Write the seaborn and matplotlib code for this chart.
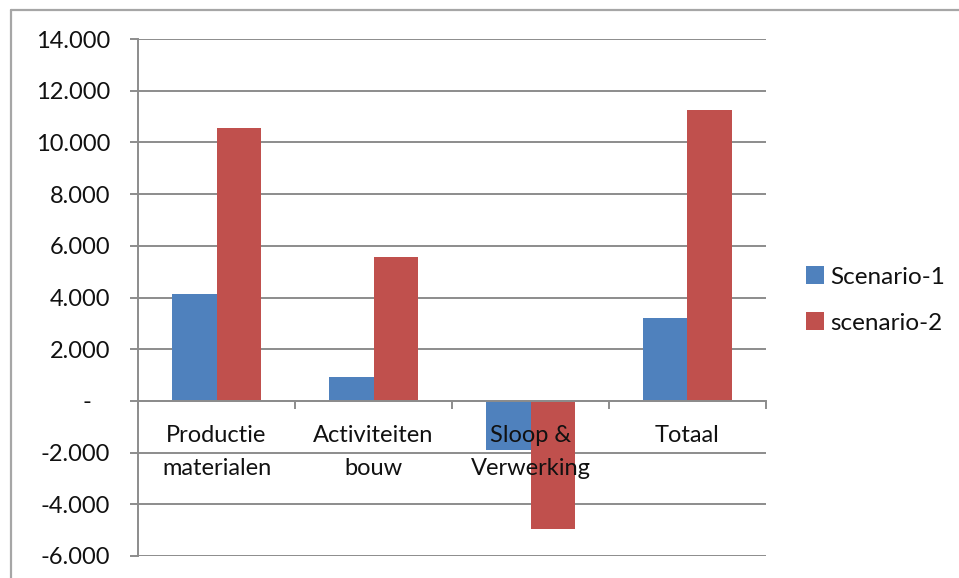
import pandas as pd
import numpy as np
import seaborn as sns
import matplotlib.pyplot as plt
from matplotlib.lines import Line2D
from matplotlib.ticker import FuncFormatter, FixedLocator

# Data
categories = ["Productie\nmaterialen", "Activiteiten\nbouw", "Sloop &\nVerwerking", "Totaal"]
scenario_1 = [4130, 940, -1910, 3220]
scenario_2 = [10550, 5560, -4970, 11240]
series_names = ["Scenario-1", "scenario-2"]
y_ticks = list(range(-6000, 14001, 2000))

df = pd.DataFrame({
    "categorie": categories * 2,
    "waarde": scenario_1 + scenario_2,
    "scenario": [series_names[0]] * 4 + [series_names[1]] * 4,
})

sns.set_theme(style="white")
plt.rcParams['font.family'] = ['Lato', 'DejaVu Sans']

fig = plt.figure(figsize=(9.59, 5.78), dpi=100)
ax = fig.add_axes([138 / 959, 1 - 556 / 578, (766 - 138) / 959, (556 - 39) / 578])

palette = {"Scenario-1": "#4F81BD", "scenario-2": "#C0504D"}
sns.barplot(data=df, x="categorie", y="waarde", hue="scenario", palette=palette,
            width=0.567, gap=0, ax=ax, legend=True, saturation=1,
            edgecolor="none", linewidth=0, zorder=1)

ax.set_ylim(-6000, 14000)
ax.set_xlim(-0.5, 3.5)
ax.set_yticks(y_ticks)

def nl_fmt(v, pos):
    if abs(v) < 1e-9:
        return "-   "
    return f"{int(v):,}".replace(",", ".")

ax.yaxis.set_major_formatter(FuncFormatter(nl_fmt))
# gridlines behind the bars, axis text on top of them
ax.grid(False)
ax.set_axisbelow(False)
for yv in y_ticks:
    ax.axhline(yv, color="#8C8C8C", linewidth=1.4, zorder=0.5)
ax.set_xlabel("")
ax.set_ylabel("")

for s in ["top", "right"]:
    ax.spines[s].set_visible(False)
ax.spines["left"].set_color("#8C8C8C")
ax.spines["left"].set_linewidth(1.4)
ax.spines["bottom"].set_position(("data", 0))
ax.spines["bottom"].set_color("#8C8C8C")
ax.spines["bottom"].set_linewidth(1.4)

txt_col = "#111111"
ax.tick_params(axis="y", which="major", length=6, width=1.4, color="#8C8C8C",
               pad=14, labelsize=17, labelcolor=txt_col, left=True, direction="out")
ax.tick_params(axis="x", which="major", length=0, pad=17, labelsize=17, labelcolor=txt_col)
ax.xaxis.set_minor_locator(FixedLocator([-0.5, 0.5, 1.5, 2.5, 3.5]))
ax.tick_params(axis="x", which="minor", length=6, width=1.4, color="#8C8C8C",
               direction="out", bottom=True)
for lab in ax.get_xticklabels():
    lab.set_linespacing(1.75)

leg = ax.legend(loc="center left", bbox_to_anchor=(794 / 959, 1 - 300 / 578),
                bbox_transform=fig.transFigure, frameon=False, fontsize=17.5,
                handlelength=0.75, handleheight=0.75, handletextpad=0.25,
                labelspacing=1.0, borderpad=0)
for t in leg.get_texts():
    t.set_color(txt_col)

# outer chart border (left and top edges visible)
fig.add_artist(Line2D([11 / 959, 11 / 959], [0, 1 - 10 / 578], transform=fig.transFigure,
                      color="#A6A6A6", linewidth=1.6))
fig.add_artist(Line2D([11 / 959, 1], [1 - 10 / 578, 1 - 10 / 578], transform=fig.transFigure,
                      color="#A6A6A6", linewidth=1.6))

fig.savefig("out.png", dpi=100, facecolor="white")
